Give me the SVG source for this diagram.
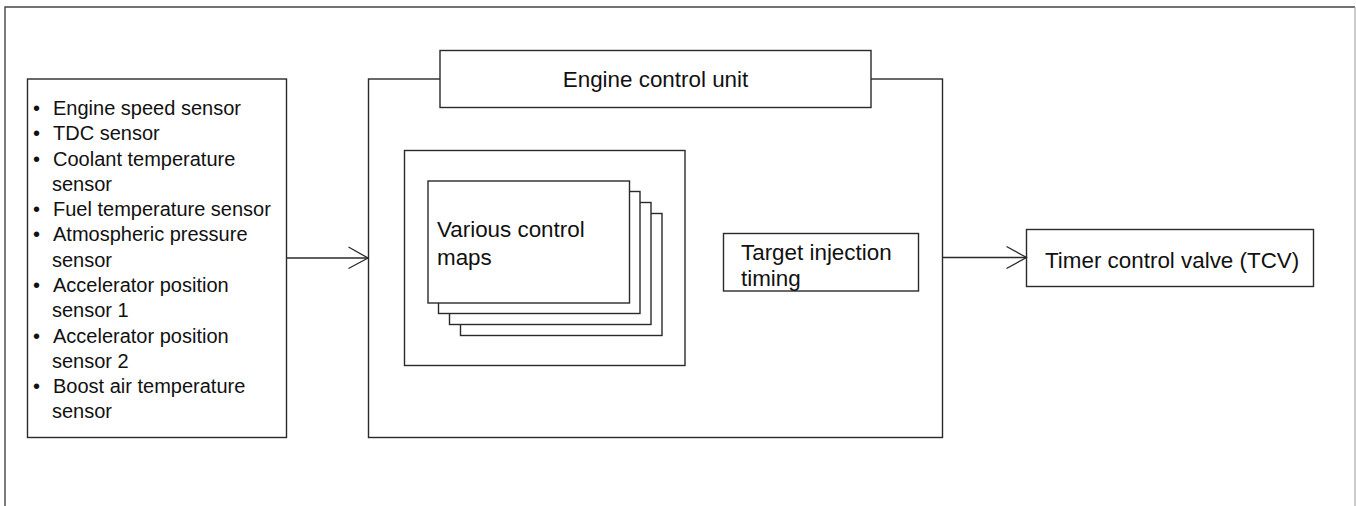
<svg xmlns="http://www.w3.org/2000/svg" width="1356" height="506" viewBox="0 0 1356 506">
<style>
.box{fill:#fff;stroke:#2a2a2a;stroke-width:1.4}
.t{font-family:"Liberation Sans",Arial,sans-serif;fill:#111}
.s{font-size:20px}
.m{font-size:22.4px}
.ln{fill:none;stroke:#2a2a2a;stroke-width:1.3}
</style>
<rect width="1356" height="506" fill="#fff"/>
<g id="frame">
<path d="M5,506 V7 H1355" fill="none" stroke="#444" stroke-width="1.4"/>
<path d="M1355,7 V506" fill="none" stroke="#aaa" stroke-width="1.2"/>
</g>
<g id="sensors">
<rect class="box" x="27.5" y="79" width="259" height="358.5"/>
<g class="t s">
<text x="33" y="115">•</text><text x="53" y="115">Engine speed sensor</text>
<text x="33" y="140.3">•</text><text x="53" y="140.3">TDC sensor</text>
<text x="33" y="165.6">•</text><text x="53" y="165.6">Coolant temperature</text>
<text x="52" y="190.8">sensor</text>
<text x="33" y="216.1">•</text><text x="53" y="216.1">Fuel temperature sensor</text>
<text x="33" y="241.4">•</text><text x="53" y="241.4">Atmospheric pressure</text>
<text x="52" y="266.7">sensor</text>
<text x="33" y="292">•</text><text x="53" y="292">Accelerator position</text>
<text x="52" y="317.2">sensor 1</text>
<text x="33" y="342.5">•</text><text x="53" y="342.5">Accelerator position</text>
<text x="52" y="367.8">sensor 2</text>
<text x="33" y="393.1">•</text><text x="53" y="393.1">Boost air temperature</text>
<text x="52" y="418.4">sensor</text>
</g>
</g>
<g id="ecu">
<rect class="box" x="368.5" y="79" width="574" height="358.5"/>
</g>
<g id="ecu-title">
<rect class="box" x="440" y="50.5" width="431" height="57"/>
<text class="t m" x="655.5" y="87" text-anchor="middle">Engine control unit</text>
</g>
<g id="maps-frame">
<rect class="box" x="404.5" y="150.5" width="280.5" height="215"/>
</g>
<g id="control-maps">
<rect class="box" x="460.5" y="213.5" width="201.5" height="122"/>
<rect class="box" x="449.5" y="202.5" width="201.5" height="122"/>
<rect class="box" x="438.5" y="191.5" width="201.5" height="122"/>
<rect class="box" x="428" y="181" width="201.5" height="122"/>
<text class="t m" x="437" y="237">Various control</text>
<text class="t m" x="437" y="265">maps</text>
</g>
<g id="target-timing">
<rect class="box" x="723.5" y="233.5" width="195" height="57.5"/>
<text class="t m" x="741" y="260">Target injection</text>
<text class="t m" x="741" y="286">timing</text>
</g>
<g id="tcv">
<rect class="box" x="1026.5" y="229.5" width="287" height="57"/>
<text class="t m" x="1045" y="268">Timer control valve (TCV)</text>
</g>
<g id="connectors">
<path class="ln" d="M286.5,258 H368"/>
<path class="ln" d="M348.5,247 L368,258 L348.5,268.5"/>
<path class="ln" d="M942.5,257.5 H1026.5"/>
<path class="ln" d="M1006.5,246.5 L1026.5,257.5 L1006.5,268.5"/>
</g>
</svg>
